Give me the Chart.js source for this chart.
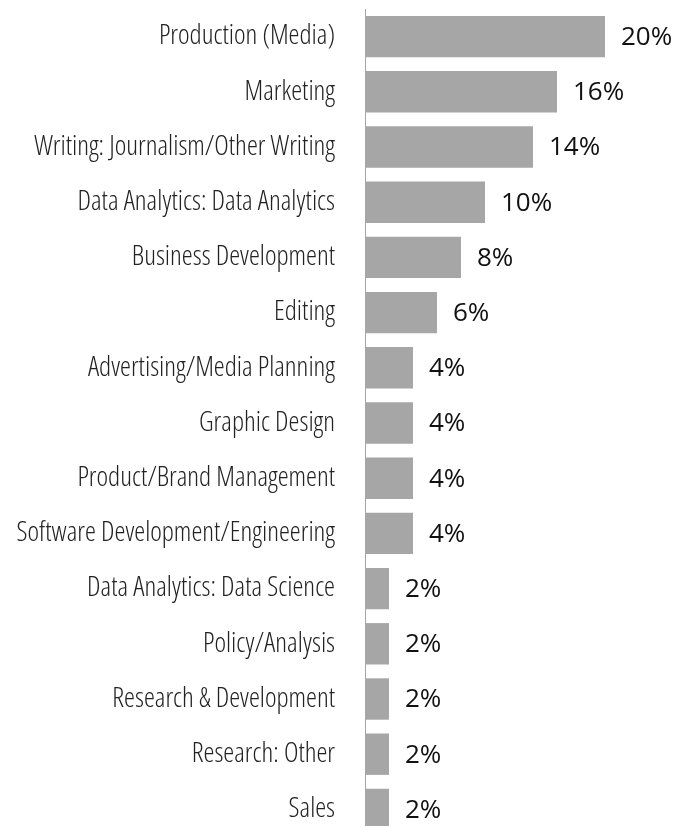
<!DOCTYPE html>
<html>
<head>
<meta charset="utf-8">
<script src="https://cdn.jsdelivr.net/npm/chart.js@4/dist/chart.umd.min.js"></script>
<style>
  html, body { margin: 0; padding: 0; background: #fff; overflow: hidden; }
  canvas { display: block; }
</style>
</head>
<body>
<canvas id="roleChart" width="674" height="840"></canvas>
<script>
const roles = [
    'Production (Media)',
    'Marketing',
    'Writing: Journalism/Other Writing',
    'Data Analytics: Data Analytics',
    'Business Development',
    'Editing',
    'Advertising/Media Planning',
    'Graphic Design',
    'Product/Brand Management',
    'Software Development/Engineering',
    'Data Analytics: Data Science',
    'Policy/Analysis',
    'Research & Development',
    'Research: Other',
    'Sales'
];
const shares = [20, 16, 14, 10, 8, 6, 4, 4, 4, 4, 2, 2, 2, 2, 2];

// percentage text just past the end of each bar
const valueLabels = {
    id: 'valueLabels',
    afterDatasetsDraw(chart) {
        const ctx = chart.ctx;
        const meta = chart.getDatasetMeta(0);
        ctx.save();
        ctx.font = '400 26px "Open Sans"';
        ctx.fillStyle = '#111';
        ctx.textAlign = 'left';
        ctx.textBaseline = 'middle';
        meta.data.forEach((bar, i) => {
            ctx.fillText(shares[i] + '%', bar.x + 16, bar.y + 1);
        });
        ctx.restore();
    }
};

new Chart(document.getElementById('roleChart'), {
    type: 'bar',
    data: {
        labels: roles,
        datasets: [{
            data: shares,
            backgroundColor: '#a6a6a6',
            borderWidth: 0,
            categoryPercentage: 0.75,
            barPercentage: 1
        }]
    },
    options: {
        indexAxis: 'y',
        responsive: false,
        animation: false,
        layout: { padding: { top: 9, right: 9, bottom: 3, left: 0 } },
        plugins: {
            legend: { display: false },
            tooltip: { enabled: false }
        },
        scales: {
            x: {
                min: 0,
                max: 25,
                display: false
            },
            y: {
                afterFit: scale => {
                    scale.width = 365;
                    scale.paddingTop = 0;
                    scale.paddingBottom = 0;
                },
                grid: { display: false, drawTicks: false },
                border: { display: true, color: '#a6a6a6', width: 1 },
                ticks: {
                    padding: 30,
                    color: '#222',
                    // stretch keyword rides along in the weight slot of the font string
                    font: { family: '"Open Sans"', size: 27.6, weight: 'condensed 300' }
                }
            }
        }
    },
    plugins: [valueLabels]
});
</script>
</body>
</html>
